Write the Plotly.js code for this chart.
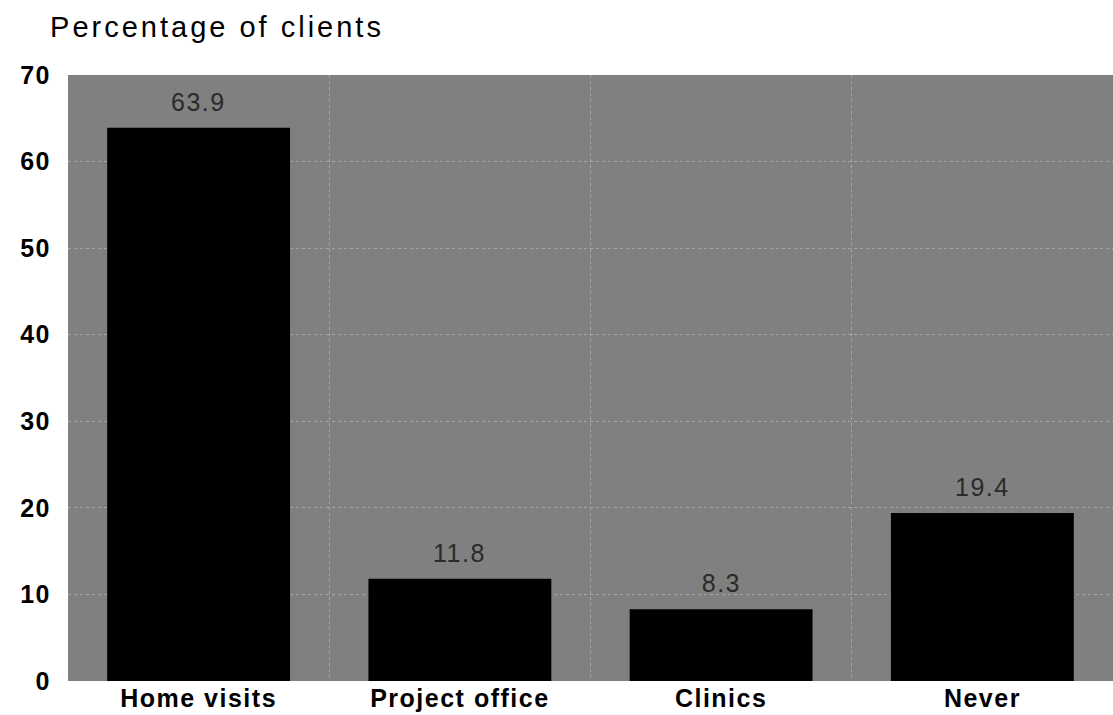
<!DOCTYPE html>
<html><head><meta charset="utf-8">
<script src="https://cdn.plot.ly/plotly-3.0.1.min.js"></script>
<style>
html,body{margin:0;padding:0;background:#fff}#c{width:1113px;height:715px}
.main-svg text{letter-spacing:1.5px}
.main-svg .gtitle{letter-spacing:3px}
</style>
</head><body><div id="c"></div>
<script>
const categories = ["Home visits", "Project office", "Clinics", "Never"];
const values = [63.9, 11.8, 8.3, 19.4];
const valueLabels = ["63.9", "11.8", "8.3", "19.4"];
const yTicks = [0, 10, 20, 30, 40, 50, 60, 70];

const FONT = "Liberation Sans, Arial, sans-serif";

Plotly.newPlot("c", [{
  type: "bar",
  x: categories,
  y: values,
  marker: {color: "#000", line: {width: 0}},
  width: 0.7,
  hoverinfo: "x+y"
}], {
  width: 1113, height: 715,
  margin: {l: 68, r: 0, t: 75, b: 34},
  paper_bgcolor: "#fff",
  plot_bgcolor: "#808080",
  showlegend: false,
  title: {text: "Percentage of clients", x: 0.045, xanchor: "left", y: 0.962, yanchor: "middle",
          font: {family: FONT, size: 29, color: "#000"}},
  annotations: categories.map((c, i) => ({
    x: c, y: values[i], text: valueLabels[i], showarrow: false,
    yanchor: "bottom", yshift: 10,
    font: {family: FONT, size: 25, color: "#2a2a2a"}
  })),
  xaxis: {
    tickson: "boundaries", showgrid: true, gridcolor: "#a6a6a6", griddash: "dot", gridwidth: 1,
    ticks: "", tickfont: {family: FONT, size: 25, color: "#000", weight: "bold"},
    showline: false, zeroline: false
  },
  yaxis: {
    range: [0, 70], tickvals: yTicks, ticks: "", showgrid: true, gridcolor: "#a6a6a6", griddash: "dot",
    tickfont: {family: FONT, size: 25, color: "#000", weight: "bold"},
    ticklabelstandoff: 16, zeroline: false, showline: false
  }
}, {displayModeBar: false, staticPlot: true});
</script></body></html>
